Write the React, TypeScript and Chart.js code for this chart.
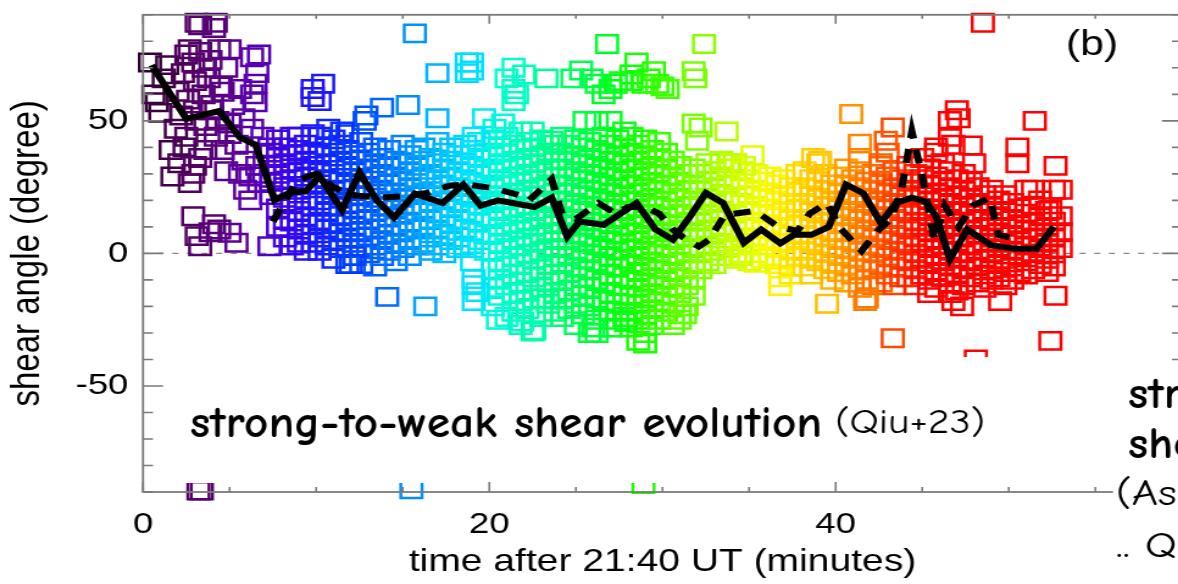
import React, { useEffect, useRef } from "react";
import { Chart, registerables } from "chart.js";

Chart.register(...registerables);

type Pair = [number, number];
type Col = [number, number[]];

// ---------- text ----------
const xTitle = "time after 21:40 UT (minutes)";
const yTitle = "shear angle (degree)";
const panelLabel = "(b)";
const noteBold = "strong-to-weak shear evolution";
const noteRef = "(Qiu+23)";
const sideBold = ["str", "she"];
const sideRegular = ["(As", ".. Q"];

// ---------- axes ----------
const xMin = 0;
const xMax = 60;
const yMin = -90;
const yMax = 90;
const xTickValues = [0, 20, 40];
const yTickValues = [-50, 0, 50];
const xMinorStep = 5;
const yMinorStep = 10;

// ---------- black curves ----------
const solidTime = [0.5, 2.5, 4.4, 5.6, 6.5, 7.6, 8.5, 9.4, 10.2, 11.5, 12.5, 13.5, 14.5, 15.7, 17.3, 18.5, 19.5, 20.5, 22.6, 23.6, 24.5, 25.2, 26.6, 27.9, 28.5, 29.6, 30.6, 31.6, 32.5, 33.5, 34.7, 35.7, 36.8, 37.6, 38.6, 39.6, 40.6, 41.6, 42.6, 43.5, 44.4, 45.2, 45.8, 46.6, 47.6, 49.0, 50.4, 51.6, 52.6];
const solidAngle = [71, 50.7, 53.7, 43.7, 41, 20, 23, 23.5, 29, 16.4, 30.5, 20, 13.5, 22.5, 19, 26, 18, 20, 17.5, 21, 6.3, 12, 10.8, 16.4, 19, 9, 5.2, 14, 22.8, 19, 4, 9, 3.8, 7, 7, 10, 26, 22.7, 11.5, 19, 21, 19.5, 14, -2.2, 9, 3, 1.8, 1.8, 10];

const dashTime = [7.5, 8.9, 10.0, 11.0, 12.0, 13.7, 15.0, 16.4, 17.7, 18.7, 20.3, 21.7, 22.3, 23.6, 24.2, 25.0, 26.3, 27.3, 28.0, 29.0, 29.8, 30.6, 31.2, 32.1, 32.7, 33.6, 35.3, 35.8, 36.7, 37.8, 38.5, 39.5, 40.2, 41.5, 42.5, 43.2, 43.8, 44.4, 45.0, 45.7, 46.3, 47.1, 47.9, 48.9, 49.4, 50.4];
const dashAngle = [12, 27.6, 30, 25, 22, 21, 21.5, 22.8, 25.5, 26, 24.5, 22, 20, 28, 15, 13, 19, 15, 17.5, 17.5, 15, 9, 6, 2.6, 5.2, 14.5, 16, 14, 10, 8.5, 15, 19, 10, 1, 9, 13, 24, 46, 29, 5, 18, 10, 18, 21, 7, 5.5];

// ---------- squares (time in minutes, shear angle in degrees) ----------
const purplePoints: Pair[] = [
  [0.4, 72], [1.4, 71], [0.8, 57], [0.6, 60], [1.0, 53], [2.0, 61], [1.2, 66], [2.5, 75], [3.1, 87], [3.3, 86], [4.2, 87], [4.1, 85],
  [2.7, 77], [3.3, 76], [4.4, 77], [5.0, 77], [6.3, 74], [6.7, 75], [2.9, 72], [3.9, 73], [3.5, 70], [4.8, 70], [2.3, 68], [3.0, 65],
  [3.8, 66], [4.5, 63], [5.6, 62], [6.5, 64], [6.6, 68], [2.6, 58], [3.5, 60], [4.0, 56], [1.9, 47], [2.5, 44], [3.1, 50], [3.9, 54],
  [4.6, 61], [5.2, 56], [6.3, 60], [6.5, 57], [2.2, 52], [3.0, 54], [3.6, 48], [4.3, 50], [5.0, 49], [5.8, 51], [1.6, 39], [1.7, 29],
  [2.9, 30], [2.7, 26.5], [3.3, 36], [2.1, 34], [3.6, 39], [4.8, 31], [4.6, 39], [6.2, 29], [6.2, 20], [5.8, 35], [6.7, 26.5], [5.4, 41],
  [6.3, 47], [6.9, 44], [7.3, 40], [4.2, 44], [5.0, 45], [2.4, 40], [3.0, 33], [5.9, 24], [6.6, 33], [7.0, 30], [5.6, 30], [2.9, 14],
  [3.1, 6.5], [3.3, 2.7], [4.4, 9], [5.0, 7.8], [5.4, 4], [7.3, 2.7], [3.9, 8], [4.1, 11], [3.2, -89.5], [3.4, -89.5],
];

const violetColumns: Col[] = [
  [7.4, [38, 33, 27, 22]],
  [7.8, [43, 36, 30, 17, 10]],
  [8.2, [40, 34, 25, 21, 13, 6]],
  [8.6, [44, 37, 32, 28, 19, 12, 3]],
  [9.0, [44, 39, 31, 24, 16, 9, 4]],
  [9.4, [41, 35, 29, 20, 14, 7, 1]],
  [9.8, [45, 38, 33, 26, 18, 11, 4]],
];

const blueColumns: Col[] = [
  [10.2, [44, 37, 31, 26, 20, 12, 6, 1]],
  [10.6, [40, 34, 28, 22, 16, 9, 3]],
  [11.0, [43, 38, 30, 24, 18, 11, 5, -2]],
  [11.4, [41, 35, 27, 21, 14, 8, 2]],
  [11.8, [45, 39, 33, 26, 19, 12, 6, -4]],
  [12.2, [37, 31, 24, 17, 10, 4, -1]],
  [12.6, [42, 35, 28, 22, 15, 8, 2, -4]],
  [13.0, [38, 32, 25, 19, 13, 6, 0]],
  [13.4, [40, 34, 29, 21, 16, 9, 3, -5]],
  [13.8, [36, 30, 24, 18, 11, 5, -1]],
  [14.2, [39, 33, 26, 20, 14, 7, 1]],
  [14.6, [35, 29, 23, 17, 10, 4, -3]],
  [15.0, [41, 34, 27, 21, 15, 8, 2]],
  [15.4, [37, 31, 25, 18, 12, 5, -1]],
  [15.8, [39, 33, 28, 22, 16, 9, 3]],
  [16.2, [40, 35, 29, 23, 17, 10, 4]],
  [16.6, [36, 30, 25, 19, 13, 6, 1]],
  [17.0, [42, 34, 28, 22, 15, 9, 3]],
  [17.4, [38, 32, 26, 20, 14, 7, 0]],
  [17.8, [40, 35, 29, 23, 17, 11, 5]],
  [18.2, [37, 31, 25, 19, 13, 6, 2]],
  [18.6, [41, 34, 28, 22, 16, 9, 3]],
  [19.0, [39, 33, 27, 21, 15, 8, 2, -3]],
  [19.4, [42, 36, 30, 24, 18, 12, 5]],
  [19.8, [38, 32, 26, 20, 14, 7, 1]],
];

const blueOutliers: Pair[] = [
  [9.8, 62], [9.8, 59], [10.4, 64], [10.2, 57.5], [12.8, 50], [12.9, 52], [13.8, 55], [15.3, 56], [15.7, 83], [17.0, 68],
  [17.0, 51], [18.7, 72], [18.7, 68], [14.1, -16.4], [16.3, -20], [19.1, -12], [19.1, -18], [15.5, -89], [12.0, -4], [12.2, -1],
  [10.7, 47], [11.5, 46],
];

const cyanColumns: Col[] = [
  [20.2, [43, 37, 31, 25, 19, 13, 7, 1, -6, -13, -20]],
  [20.6, [40, 34, 28, 22, 16, 10, 4, -3, -10, -16]],
  [21.0, [44, 38, 32, 26, 20, 14, 8, 2, -5, -12, -24]],
  [21.4, [41, 35, 29, 23, 17, 11, 5, -1, -8, -15, -22]],
  [21.8, [39, 33, 27, 21, 15, 9, 3, -4, -11, -18, -27]],
  [22.2, [42, 36, 30, 24, 18, 12, 6, 0, -7, -14, -21]],
  [22.6, [40, 34, 28, 22, 16, 10, 4, -2, -9, -17, -29]],
  [23.0, [43, 37, 31, 25, 19, 13, 7, 1, -6, -13, -24]],
  [23.4, [38, 32, 26, 20, 14, 8, 2, -4, -11, -19]],
  [23.8, [41, 35, 29, 23, 17, 11, 5, -1, -8, -15, -22]],
];

const cyanOutliers: Pair[] = [
  [19.0, 72], [19.0, 69], [21.4, 70], [22.0, 67.5], [23.3, 66], [21.4, 62], [21.4, 57.5], [21.0, 66], [21.6, 60], [19.7, 51],
  [20.3, 47], [21.8, 46], [23.6, 42.5], [19.1, 44], [20.8, 49], [22.5, 46], [19.1, -9.7], [19.3, -14.6], [20.5, -25],
  [22.5, -29.5], [21.9, -25.7], [23.1, -17],
];

const greenColumns: Col[] = [
  [24.2, [44, 38, 32, 26, 20, 14, 8, 2, -4, -10, -17, -24]],
  [24.6, [41, 35, 29, 23, 17, 11, 5, -1, -7, -14, -21]],
  [25.0, [43, 37, 31, 25, 19, 13, 7, 1, -5, -12, -19, -27]],
  [25.4, [40, 34, 28, 22, 16, 10, 4, -2, -9, -16, -23]],
  [25.8, [42, 36, 30, 24, 18, 12, 6, 0, -6, -13, -20, -30]],
  [26.2, [39, 33, 27, 21, 15, 9, 3, -3, -10, -17, -25]],
  [26.6, [44, 38, 32, 26, 20, 14, 8, 2, -4, -11, -18]],
  [27.0, [41, 35, 29, 23, 17, 11, 5, -1, -8, -15, -22, -28]],
  [27.4, [43, 37, 31, 25, 19, 13, 7, 1, -5, -12, -19]],
  [27.8, [40, 34, 28, 22, 16, 10, 4, -2, -9, -16, -24]],
  [28.2, [44, 38, 32, 26, 20, 14, 8, 2, -4, -10, -16, -22, -28]],
  [28.6, [41, 35, 29, 23, 17, 11, 5, -1, -7, -13, -19, -25, -33]],
  [29.0, [43, 37, 31, 25, 19, 13, 7, 1, -5, -11, -17, -23, -30]],
  [29.4, [39, 33, 27, 21, 15, 9, 3, -3, -9, -15, -21, -27]],
  [29.8, [42, 36, 30, 24, 18, 12, 6, 0, -6, -12, -18, -25]],
  [30.2, [38, 32, 26, 20, 14, 8, 2, -4, -10, -16, -22]],
  [30.6, [35, 29, 23, 17, 11, 5, -1, -7, -13, -19, -27]],
  [31.0, [33, 27, 21, 15, 9, 3, -3, -9, -15, -23]],
  [31.4, [30, 24, 18, 12, 6, 0, -6, -12, -20]],
  [31.8, [32, 26, 20, 14, 8, 2, -4, -10, -16]],
];

const greenOutliers: Pair[] = [
  [26.8, 79], [25.3, 69], [26.2, 64], [27.0, 62], [27.6, 65], [28.2, 67.5], [25.5, 50], [26.2, 50], [27.0, 50], [27.8, 46],
  [25.9, 66], [26.6, 60], [27.3, 64], [24.8, 66], [26.0, -28], [26.2, -30], [27.9, -26], [27.4, -25],
  [28.5, 72], [29.5, 68.7], [31.8, 68.7], [28.2, 65], [28.9, 64], [29.7, 64], [30.3, 62], [32.4, 79], [31.8, 49], [32.2, 47.5],
  [33.7, 46], [32.0, 42.5], [29.2, 66], [30.0, 63], [31.9, 66], [28.9, -87], [29.0, -34], [31.0, -25], [31.3, -23],
];

const yellowColumns: Col[] = [
  [32.2, [30, 24, 18, 12, 6, 0, -6]],
  [32.6, [34, 27, 21, 15, 9, 3, -3]],
  [33.0, [31, 25, 19, 13, 7, 1, -4]],
  [33.4, [35, 29, 22, 16, 10, 4, -1]],
  [33.8, [32, 26, 20, 14, 8, 2]],
  [34.2, [34, 28, 21, 15, 9, 3, -2]],
  [34.6, [31, 25, 19, 12, 6, 0]],
  [35.0, [28, 22, 16, 10, 4, -3]],
  [35.4, [30, 24, 18, 12, 6, 0]],
  [35.8, [27, 21, 15, 9, 3, -2]],
  [36.2, [29, 23, 17, 11, 5, -1]],
  [36.6, [26, 20, 14, 8, 2, -4]],
  [37.0, [28, 22, 16, 10, 4, -2]],
  [37.4, [25, 19, 13, 7, 1, -5]],
  [37.8, [30, 23, 17, 11, 5, -1]],
];

const yellowOutliers: Pair[] = [
  [36.8, -9], [36.8, -12.3], [34.5, -1], [35.4, -3.5], [33.9, 34], [34.7, 33], [35.2, 37], [37.4, -8],
];

const orangeColumns: Col[] = [
  [38.2, [31, 25, 19, 13, 7, 1, -5]],
  [38.6, [28, 22, 16, 10, 4, -2, -8]],
  [39.0, [34, 27, 21, 15, 9, 3, -3]],
  [39.4, [30, 24, 18, 12, 6, 0, -6]],
  [39.8, [26, 20, 14, 8, 2, -4, -10]],
  [40.2, [29, 23, 17, 11, 5, -1, -7]],
  [40.6, [32, 26, 20, 14, 8, 2, -5, -11]],
  [41.0, [28, 22, 16, 10, 4, -2, -8]],
  [41.4, [31, 25, 19, 13, 7, 1, -6, -13]],
  [41.8, [27, 21, 15, 9, 3, -3, -10]],
  [42.2, [30, 24, 18, 12, 6, 0, -6, -12]],
  [42.6, [33, 26, 20, 14, 8, 2, -4, -11]],
  [43.0, [29, 23, 17, 11, 5, -1, -8]],
  [43.4, [31, 25, 19, 13, 7, 1, -5, -12]],
  [43.8, [28, 22, 16, 10, 4, -2, -9]],
];

const orangeOutliers: Pair[] = [
  [39.5, -19], [41.7, -18], [43.3, -32], [41.8, -17], [40.9, 52.6], [43.3, 47.5], [42.9, 42.5], [41.4, 41.4], [39.1, 35],
  [38.7, 36], [41.4, 36], [42.6, 34], [43.0, 38],
];

const redColumns: Col[] = [
  [44.2, [33, 27, 21, 15, 9, 3, -3, -9]],
  [44.6, [30, 24, 18, 12, 6, 0, -6, -12]],
  [45.0, [36, 28, 22, 16, 10, 4, -2, -8]],
  [45.4, [32, 26, 20, 14, 8, 2, -4, -10, -15]],
  [45.8, [38, 29, 23, 17, 11, 5, -1, -7, -13]],
  [46.2, [34, 27, 21, 15, 9, 3, -3, -9]],
  [46.6, [31, 25, 19, 13, 7, 1, -5, -11]],
  [47.0, [28, 22, 16, 10, 4, -2, -8, -14]],
  [47.4, [30, 24, 18, 12, 6, 0, -6, -12]],
  [47.8, [27, 21, 15, 9, 3, -3, -9]],
  [48.2, [25, 19, 13, 7, 1, -5, -11]],
  [48.6, [22, 16, 10, 4, -2, -8, -13]],
  [49.0, [24, 18, 12, 6, 0, -6, -10]],
  [49.4, [20, 14, 8, 2, -4, -9]],
  [49.8, [22, 16, 10, 4, -2, -7, -12]],
  [50.2, [19, 13, 7, 1, -5, -10]],
  [50.6, [17, 11, 5, -1, -7]],
  [51.0, [24, 15, 9, 3, -3, -8]],
  [51.4, [18, 12, 6, 0, -6]],
  [51.8, [20, 14, 8, 2, -4]],
  [52.2, [16, 10, 4, -2, -7]],
  [52.6, [12, 6, 0, -5]],
  [53.0, [14, 8, 2]],
];

const redOutliers: Pair[] = [
  [48.5, 87], [47.0, 54], [47.1, 51], [51.5, 50], [50.5, 40], [50.5, 34], [52.7, 33], [47.8, 40.7], [46.6, 50], [46.6, 44],
  [51.4, 24], [52.6, 24], [53.0, 24], [52.4, 16.4], [46.8, 41], [45.8, 40], [52.7, -16], [52.4, -33], [46.8, -18], [46.6, -15],
  [48.1, -40], [47.3, -20], [49.5, -18], [48.0, 34],
];

// ---------- styling ----------
const STRETCH = 1200 / 984; // the original figure is stretched horizontally
const CW = 984;
const CH = 584;
const ip = (pageX: number) => pageX / STRETCH;

const rainbow: [number, number, number, number][] = [
  [0, 45, 0, 45], [3, 85, 0, 100], [6, 95, 0, 165], [8, 70, 0, 220], [10, 30, 20, 255], [12, 0, 60, 255],
  [15, 0, 130, 255], [17, 0, 180, 255], [19, 0, 225, 255], [21, 0, 255, 210], [23, 0, 255, 160], [25, 0, 255, 90],
  [27, 0, 255, 30], [29, 30, 255, 0], [31, 90, 255, 0], [33, 160, 255, 0], [35, 220, 255, 0], [36.5, 255, 250, 0],
  [38, 255, 220, 0], [39.5, 255, 190, 0], [41, 255, 145, 0], [42.5, 255, 100, 0], [44, 255, 50, 0], [45.5, 255, 0, 0],
  [60, 255, 0, 0],
];

function colorAt(t: number): string {
  for (let i = 1; i < rainbow.length; i++) {
    const a = rainbow[i - 1];
    const b = rainbow[i];
    if (t <= b[0]) {
      const f = Math.max(0, Math.min(1, (t - a[0]) / (b[0] - a[0])));
      const c = [1, 2, 3].map((k) => Math.round(a[k] + (b[k] - a[k]) * f));
      return `rgb(${c[0]},${c[1]},${c[2]})`;
    }
  }
  return "rgb(255,0,0)";
}

const fromCols = (cols: Col[]): Pair[] => cols.flatMap(([t, ys]) => ys.map((y) => [t, y] as Pair));

const SANS = '"Liberation Sans", Arial, Helvetica, sans-serif';
const COMIC = '"Comic Sans MS", "Comic Neue", Lato, "DejaVu Sans", sans-serif';
const AXIS_GRAY = "#7a7a7a";

const decorPlugin = {
  id: "decor",
  beforeDatasetsDraw(chart: any) {
    const { ctx, chartArea: a, scales } = chart;
    const y0 = scales.y.getPixelForValue(0);
    ctx.save();
    ctx.strokeStyle = "#8a8a8a";
    ctx.lineWidth = 1.4;
    ctx.setLineDash([5, 7]);
    ctx.beginPath();
    ctx.moveTo(a.left, y0);
    ctx.lineTo(a.right, y0);
    ctx.stroke();
    ctx.restore();
  },
  afterDatasetsDraw(chart: any) {
    const { ctx } = chart;
    ctx.save();
    ctx.fillStyle = "#ffffff";
    ctx.fillRect(ip(145), 357, ip(1113) - ip(145), 126);
    ctx.restore();
  },
  afterDraw(chart: any) {
    const { ctx, chartArea: a, scales } = chart;
    const xs = scales.x;
    const ys = scales.y;
    ctx.save();
    // frame
    ctx.strokeStyle = AXIS_GRAY;
    ctx.lineWidth = 1.8;
    ctx.strokeRect(a.left, a.top, a.right - a.left, a.bottom - a.top);
    // inward ticks on x (bottom and top)
    ctx.lineWidth = 1.6;
    ctx.beginPath();
    for (let v = xMin; v <= xMax; v += xMinorStep) {
      const p = xs.getPixelForValue(v);
      const major = v % 20 === 0;
      ctx.moveTo(p, a.bottom);
      ctx.lineTo(p, a.bottom - (major ? 10 : 5));
      ctx.moveTo(p, a.top);
      ctx.lineTo(p, a.top + (major ? 9 : 4));
    }
    // inward ticks on y (left and right)
    for (let v = yMin; v <= yMax; v += yMinorStep) {
      const p = ys.getPixelForValue(v);
      const len = v % 50 === 0 ? ip(20) : ip(10);
      ctx.moveTo(a.left, p);
      ctx.lineTo(a.left + len, p);
      ctx.moveTo(a.right, p);
      ctx.lineTo(a.right - len, p);
    }
    ctx.stroke();

    // white area holding the side text
    ctx.fillStyle = "#ffffff";
    ctx.fillRect(ip(1113), 368, CW - ip(1113), CH - 368);

    // texts
    ctx.fillStyle = "#000";
    ctx.textBaseline = "alphabetic";
    ctx.textAlign = "center";
    ctx.font = `35px ${SANS}`;
    ctx.fillText(panelLabel, ip(1092), 55);

    ctx.textAlign = "left";
    const boldFont = `bold 44px ${COMIC}`;
    ctx.font = boldFont;
    const sb = (ip(822) - ip(190)) / ctx.measureText(noteBold).width;
    const draw = (text: string, x: number, y: number, font: string, sx: number) => {
      ctx.save();
      ctx.font = font;
      ctx.translate(x, y);
      ctx.scale(sx, 1);
      ctx.fillText(text, 0, 0);
      ctx.restore();
    };
    draw(noteBold, ip(190), 437, boldFont, sb);
    const regFont = `34px ${COMIC}`;
    ctx.font = regFont;
    const sr = (ip(985) - ip(835)) / ctx.measureText(noteRef).width;
    draw(noteRef, ip(835), 433, regFont, sr);

    draw(sideBold[0], ip(1128), 408, boldFont, sb);
    draw(sideBold[1], ip(1128), 458, boldFont, sb);
    const sideFont = `37px ${COMIC}`;
    draw(sideRegular[0], ip(1116), 505, sideFont, sr);
    draw(sideRegular[1], ip(1116), 557, sideFont, sr);
    ctx.restore();
  },
};

const noPadding = (s: any) => {
  s.paddingTop = 0;
  s.paddingBottom = 0;
  s.paddingLeft = 0;
  s.paddingRight = 0;
};

export default function App() {
  const ref = useRef<HTMLCanvasElement | null>(null);

  useEffect(() => {
    if (!ref.current) return;
    const squares: Pair[] = [
      ...purplePoints,
      ...fromCols(violetColumns),
      ...fromCols(blueColumns),
      ...blueOutliers,
      ...fromCols(cyanColumns),
      ...cyanOutliers,
      ...fromCols(greenColumns),
      ...greenOutliers,
      ...fromCols(yellowColumns),
      ...yellowOutliers,
      ...fromCols(orangeColumns),
      ...orangeOutliers,
      ...fromCols(redColumns),
      ...redOutliers,
    ];
    const squareData = squares.map(([x, y]) => ({ x, y }));
    const squareColors = squares.map(([x]) => colorAt(x));
    const solid = solidTime.map((x, i) => ({ x, y: solidAngle[i] }));
    const dashed = dashTime.map((x, i) => ({ x, y: dashAngle[i] }));

    const chart = new Chart(ref.current, {
      type: "scatter",
      data: {
        datasets: [
          {
            data: solid,
            showLine: true,
            borderColor: "#000",
            borderWidth: 6,
            pointRadius: 0,
            borderJoinStyle: "miter",
            order: 0,
          } as any,
          {
            data: dashed,
            showLine: true,
            borderColor: "#000",
            borderWidth: 6,
            borderDash: [14, 11],
            pointRadius: 0,
            order: 1,
          } as any,
          {
            data: squareData,
            pointStyle: "rect",
            pointRadius: 12.3,
            pointBorderWidth: 2.5,
            pointBackgroundColor: "rgba(0,0,0,0)",
            pointBorderColor: squareColors,
            showLine: false,
            clip: false,
            order: 5,
          } as any,
        ],
      },
      options: {
        responsive: false,
        animation: false,
        devicePixelRatio: 1,
        events: [],
        layout: { padding: { top: 14, right: CW - ip(1184), left: 0, bottom: 0 } },
        plugins: { legend: { display: false }, tooltip: { enabled: false } },
        scales: {
          x: {
            type: "linear",
            min: xMin,
            max: xMax,
            grid: { display: false, drawTicks: false },
            border: { display: false },
            ticks: { color: "#000", font: { family: SANS, size: 30 }, padding: 15, autoSkip: false, maxRotation: 0 },
            afterBuildTicks: (s: any) => {
              s.ticks = xTickValues.map((v) => ({ value: v }));
            },
            afterFit: (s: any) => {
              s.height = CH - 492;
              noPadding(s);
            },
            title: {
              display: true,
              text: xTitle,
              color: "#000",
              font: { family: SANS, size: 32 },
              padding: { top: 0, bottom: 3 },
            },
          },
          y: {
            type: "linear",
            min: yMin,
            max: yMax,
            grid: { display: false, drawTicks: false },
            border: { display: false },
            ticks: { color: "#000", font: { family: SANS, size: 30 }, padding: 12, autoSkip: false },
            afterBuildTicks: (s: any) => {
              s.ticks = yTickValues.map((v) => ({ value: v }));
            },
            afterFit: (s: any) => {
              s.width = ip(143);
              noPadding(s);
            },
            title: {
              display: true,
              text: yTitle,
              color: "#000",
              font: { family: SANS, size: 33 },
              padding: { top: 3, bottom: 0 },
            },
          },
        },
      } as any,
      plugins: [decorPlugin],
    });
    return () => chart.destroy();
  }, []);

  return (
    <div
      style={{
        position: "fixed",
        left: 0,
        top: 0,
        width: 1178,
        height: 584,
        overflow: "hidden",
        background: "#fff",
      }}
    >
      <canvas
        ref={ref}
        width={CW}
        height={CH}
        style={{ width: "1200px", height: "584px", display: "block" }}
      />
    </div>
  );
}
